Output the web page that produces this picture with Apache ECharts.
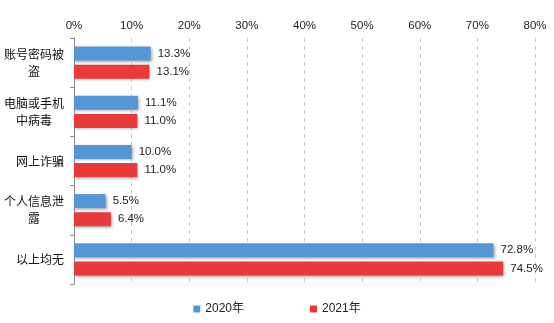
<!DOCTYPE html>
<html><head><meta charset="utf-8">
<script src="https://cdn.jsdelivr.net/npm/echarts@6/dist/echarts.min.js"></script>
<style>html,body{margin:0;padding:0;background:#fff}#c{width:554px;height:323px}</style>
</head><body><div id="c"></div>
<script>
const categories = ['账号密码被\n盗', '电脑或手机\n中病毒', '网上诈骗', '个人信息泄\n露', '以上均无'];
const values2020 = [13.3, 11.1, 10.0, 5.5, 72.8];
const values2021 = [13.1, 11.0, 11.0, 6.4, 74.5];
const seriesNames = ['2020年', '2021年'];

const chart = echarts.init(document.getElementById('c'), null, {renderer: 'canvas'});
const labelCfg = {
  show: true, position: 'right', distance: 7,
  formatter: p => p.value.toFixed(1) + '%',
  color: '#222', fontSize: 11.5, fontFamily: 'Liberation Sans, Arial, sans-serif'
};
const shadow = {shadowColor: 'rgba(0,0,0,0.35)', shadowBlur: 3, shadowOffsetX: 1, shadowOffsetY: 1.5};
chart.setOption({
  animation: false,
  grid: {left: 74, right: 19, top: 38, bottom: 39},
  legend: {
    data: seriesNames, bottom: 3, left: 'center', icon: 'rect',
    itemWidth: 7, itemHeight: 7, itemGap: 66,
    textStyle: {color: '#222', fontSize: 12, fontFamily: 'Liberation Sans, Arial, Noto Sans CJK SC, sans-serif'}
  },
  xAxis: {
    type: 'value', position: 'top', min: 0, max: 80, interval: 10,
    axisLine: {show: false}, axisTick: {show: false},
    axisLabel: {formatter: '{value}%', margin: 6, color: '#222', fontSize: 11.5, fontFamily: 'Liberation Sans, Arial, sans-serif'},
    splitLine: {show: true, lineStyle: {type: [4, 4], color: '#cccccc', width: 1}}
  },
  yAxis: {
    type: 'category', data: categories, inverse: true,
    axisLine: {show: true, lineStyle: {color: '#888888'}},
    axisTick: {show: true, length: 4, lineStyle: {color: '#888888'}},
    axisLabel: {
      margin: 10, color: '#111', fontSize: 12, lineHeight: 17,
      fontFamily: 'Noto Sans CJK SC, sans-serif',
      formatter: v => v.indexOf('\n') < 0 ? v : v.split('\n').map(s => '{a|' + s + '}').join('\n'),
      rich: {a: {width: 60, align: 'center', fontSize: 12, lineHeight: 17, color: '#111', fontFamily: 'Noto Sans CJK SC, sans-serif'}}
    }
  },
  series: [
    {name: seriesNames[0], type: 'bar', data: values2020, barWidth: 14, barGap: '30%',
     itemStyle: Object.assign({color: '#5596D5'}, shadow), label: labelCfg},
    {name: seriesNames[1], type: 'bar', data: values2021, barWidth: 14,
     itemStyle: Object.assign({color: '#E8393B'}, shadow), label: labelCfg}
  ]
});
</script></body></html>
